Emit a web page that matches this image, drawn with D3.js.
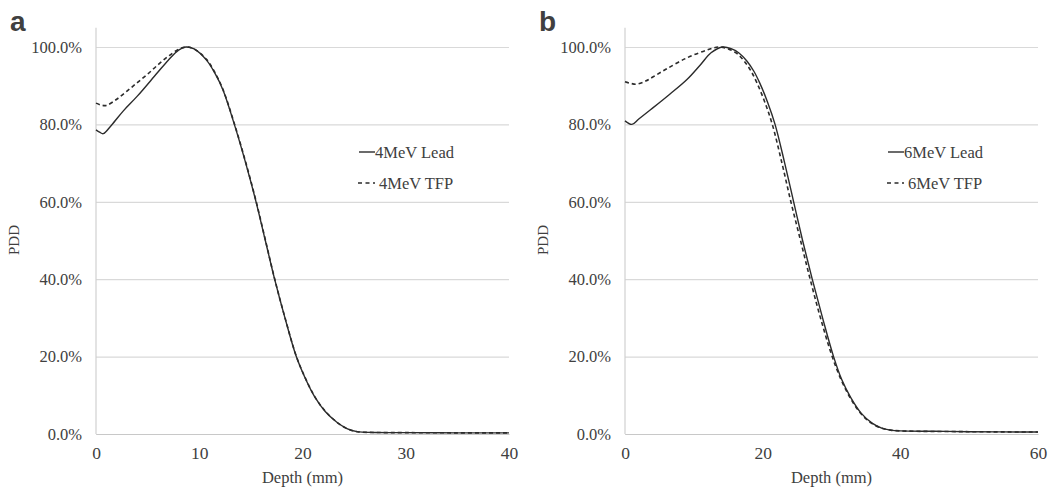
<!DOCTYPE html>
<html>
<head>
<meta charset="utf-8">
<script src="https://cdn.jsdelivr.net/npm/d3@7"></script>
<style>
  body { margin: 0; background: #fff; }
  svg text { font-family: "Liberation Serif", "Times New Roman", serif; fill: #404040; }
</style>
</head>
<body>
<div id="chart"></div>
<script>
// panel a: 4 MeV
const depthA = [0, 0.35, 0.7, 1.5, 2.65, 4, 5.9, 7, 8, 8.7, 9.5, 10.7, 11.5, 12.3, 13.4, 14.5, 15.5, 16.4, 17.3, 18.3, 19.4, 20.3, 21.2, 22.2, 23.3, 24.3, 25.3, 27, 30, 35, 40];
const leadA  = [78.6, 78.0, 77.6, 79.8, 83.5, 87.3, 93.2, 96.6, 99.2, 100, 99.5, 96.6, 93.3, 88.9, 80, 70, 60, 50, 40, 30, 20, 14.2, 9.5, 5.8, 3.1, 1.4, 0.6, 0.4, 0.35, 0.3, 0.3];
const depthA2 = [0, 0.5, 1, 2, 3, 4, 5, 6, 7, 8, 8.7, 9.5, 10.7, 11.5, 12.3, 13.4, 14.5, 15.5, 16.4, 17.3, 18.3, 19.4, 20.3, 21.2, 22.2, 23.3, 24.3, 25.3, 27, 30, 35, 40];
const tfpA   = [85.5, 85.0, 84.9, 86.5, 88.6, 90.8, 93.0, 95.4, 97.6, 99.4, 100, 99.5, 96.8, 93.5, 89.0, 80.2, 70.2, 60.2, 50.2, 40.1, 30.1, 20.1, 14.3, 9.6, 5.9, 3.1, 1.4, 0.6, 0.4, 0.35, 0.3, 0.3];

// panel b: 6 MeV
const depthB = [0, 1, 2, 4, 6.5, 9, 11, 12.5, 14.2, 15.5, 16.6, 17.7, 18.7, 19.6, 20.7, 21.8, 23.2, 24.5, 25.8, 27.2, 28.7, 30.3, 31.5, 32.8, 34.3, 35.9, 37.3, 38.6, 40, 45, 50, 60];
const leadB  = [80.9, 80.0, 81.4, 84.2, 87.8, 91.6, 95.5, 98.5, 100, 99.5, 98.4, 96.4, 93.8, 90.6, 85.8, 80, 70, 60, 50, 40, 30, 20, 14, 9.4, 5.4, 2.8, 1.5, 1.0, 0.8, 0.7, 0.6, 0.5];
const depthB2 = [0, 0.8, 1.7, 3, 4.1, 6, 9, 11.9, 13.6, 15, 16.2, 17.3, 18.3, 19.2, 20.3, 21.4, 22.8, 24.1, 25.5, 26.9, 28.4, 30.1, 31.4, 32.7, 34.2, 35.8, 37.3, 38.6, 40, 50, 60];
const tfpB   = [91.0, 90.6, 90.4, 91.2, 92.3, 94.3, 97.2, 99.2, 100, 99.5, 98.4, 96.4, 93.8, 90.6, 85.8, 80, 70, 60, 50, 40, 30, 20, 14, 9.4, 5.4, 2.8, 1.5, 1.0, 0.8, 0.6, 0.5];

const yTicks = [0, 20, 40, 60, 80, 100];
const xTicksA = [0, 10, 20, 30, 40];
const xTicksB = [0, 20, 40, 60];

const width = 1061;
const height = 495;

const svg = d3.select("#chart").append("svg")
     .attr("width", width)
     .attr("height", height);

function drawPanel(opts) {
     const x = d3.scaleLinear().domain([0, opts.xMax]).range([opts.left, opts.right]);
     const y = d3.scaleLinear().domain([0, 100]).range([434, 47]);
     const g = svg.append("g");

     // gridlines + y labels
     const yAxis = g.append("g")
          .attr("transform", `translate(${opts.left},0)`)
          .call(d3.axisLeft(y).tickValues(yTicks)
               .tickSize(-(opts.right - opts.left))
               .tickPadding(14)
               .tickFormat(d => d.toFixed(1) + "%"));
     yAxis.select(".domain").remove();
     yAxis.selectAll(".tick line").attr("stroke", "#d9d9d9").attr("stroke-width", 1.2);
     yAxis.selectAll(".tick text").style("font-size", "16.5px").style("font-family", "Liberation Serif").attr("fill", "#404040");

     // left axis line
     g.append("line")
          .attr("x1", opts.left).attr("x2", opts.left)
          .attr("y1", y(0)).attr("y2", y(105))
          .attr("stroke", "#d0d0d0").attr("stroke-width", 1.2);

     // x axis
     const xAxis = g.append("g")
          .attr("transform", `translate(0,${y(0)})`)
          .call(d3.axisBottom(x).tickValues(opts.xTicks).tickSize(0).tickPadding(13));
     xAxis.select(".domain").attr("stroke", "#c8c8c8").attr("stroke-width", 1.2);
     xAxis.selectAll(".tick text").style("font-size", "17.5px").style("font-family", "Liberation Serif").attr("fill", "#404040");

     // axis titles
     g.append("text")
          .attr("x", (opts.left + opts.right) / 2)
          .attr("y", 483)
          .attr("text-anchor", "middle")
          .style("font-size", "16.5px")
          .text("Depth (mm)");

     g.append("text")
          .attr("transform", `translate(${opts.left - 77},240) rotate(-90)`)
          .attr("text-anchor", "middle")
          .style("font-size", "15px")
          .text("PDD");

     // panel letter
     g.append("text")
          .attr("x", opts.left - 86)
          .attr("y", 31)
          .style("font-family", "Liberation Sans, Arial, sans-serif")
          .style("font-weight", "bold")
          .style("font-size", "28px")
          .attr("fill", "#111")
          .text(opts.letter);

     const line = d3.line()
          .x(d => x(d[0]))
          .y(d => y(d[1]))
          .curve(d3.curveCatmullRom.alpha(0.5));

     g.append("path")
          .datum(opts.tfpX.map((d, i) => [d, opts.tfp[i]]))
          .attr("d", line)
          .attr("fill", "none")
          .attr("stroke", "#2b2b2b")
          .attr("stroke-width", 1.6)
          .attr("stroke-dasharray", "4,3");

     g.append("path")
          .datum(opts.leadX.map((d, i) => [d, opts.lead[i]]))
          .attr("d", line)
          .attr("fill", "none")
          .attr("stroke", "#2b2b2b")
          .attr("stroke-width", 1.4);

     // legend
     const lx = opts.legendX;
     g.append("line")
          .attr("x1", lx).attr("x2", lx + 16)
          .attr("y1", 152).attr("y2", 152)
          .attr("stroke", "#2b2b2b").attr("stroke-width", 1.4);
     g.append("text")
          .attr("x", lx + 16).attr("y", 158)
          .style("font-size", "16.5px")
          .text(opts.names[0]);
     g.append("line")
          .attr("x1", lx - 1).attr("x2", lx + 16)
          .attr("y1", 183).attr("y2", 183)
          .attr("stroke", "#2b2b2b").attr("stroke-width", 1.4)
          .attr("stroke-dasharray", "4,3.5");
     g.append("text")
          .attr("x", lx + 20).attr("y", 189)
          .style("font-size", "16.5px")
          .text(opts.names[1]);
}

drawPanel({
     letter: "a", left: 96, right: 509, xMax: 40, xTicks: xTicksA,
     leadX: depthA, lead: leadA, tfpX: depthA2, tfp: tfpA,
     legendX: 359, names: ["4MeV Lead", "4MeV TFP"]
});

drawPanel({
     letter: "b", left: 625, right: 1038, xMax: 60, xTicks: xTicksB,
     leadX: depthB, lead: leadB, tfpX: depthB2, tfp: tfpB,
     legendX: 888, names: ["6MeV Lead", "6MeV TFP"]
});
</script>
</body>
</html>
